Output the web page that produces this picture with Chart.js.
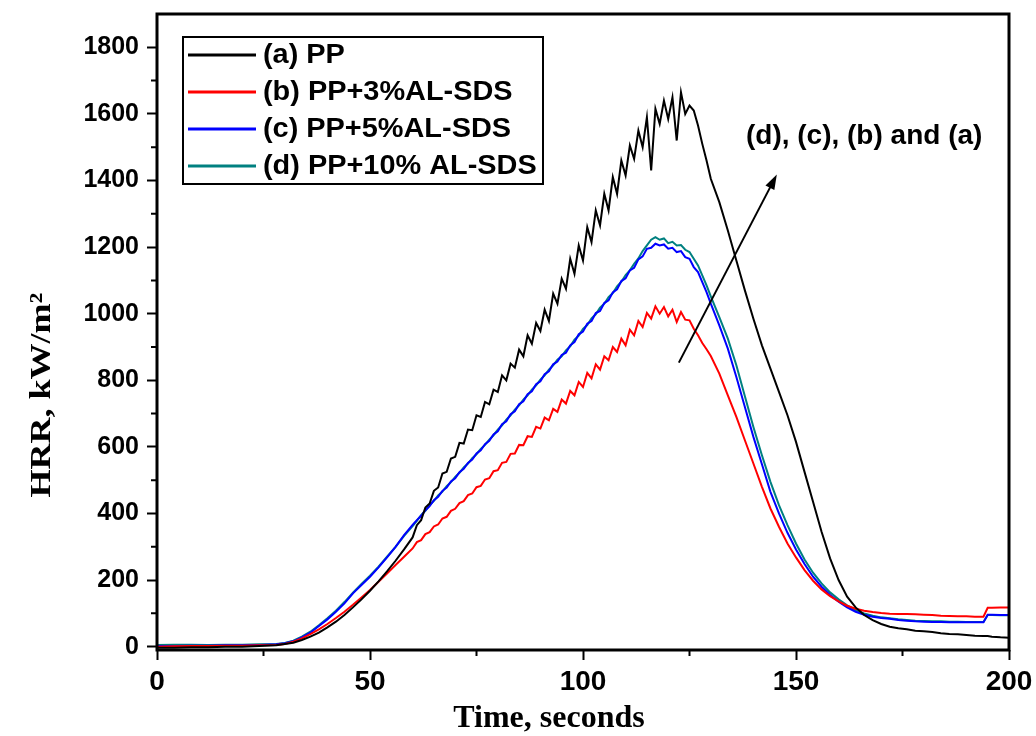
<!DOCTYPE html>
<html>
<head>
<meta charset="utf-8">
<script src="https://cdn.jsdelivr.net/npm/chart.js"></script>
<style>
  html, body { margin: 0; padding: 0; background: #fff; }
  #wrap { width: 1036px; height: 736px; }
</style>
</head>
<body>
<div id="wrap"><canvas id="chart" width="1036" height="736"></canvas></div>
<script>
// time axis, seconds (coarse on the flat start, 1 s around the peaks)
const timeSec = [
  0, 4, 8, 12, 16, 20, 24, 28,
  30, 32, 34, 36, 38, 40, 42, 44, 46, 48, 50, 52, 54, 56, 58, 60,
  61, 62, 63, 64, 65, 66, 67, 68, 69, 70,
  71, 72, 73, 74, 75, 76, 77, 78, 79, 80,
  81, 82, 83, 84, 85, 86, 87, 88, 89, 90,
  91, 92, 93, 94, 95, 96, 97, 98, 99, 100,
  101, 102, 103, 104, 105, 106, 107, 108, 109, 110,
  111, 112, 113, 114, 115, 116, 117, 118, 119, 120,
  121, 122, 123, 124, 125, 126, 127, 128, 129, 130,
  132, 134, 136, 138, 140, 142, 144, 146, 148, 150, 152, 154, 156, 158, 160, 162,
  164, 166, 168, 170, 172, 174, 176, 178, 180, 182, 184, 186, 188, 190, 192, 194,
  195, 196, 198, 200
];

// (a) PP
const hrrPP = [
  -3, -3, -2, -2, 0, 0, 2, 4,
  8, 12, 20, 30, 42, 58, 75, 95, 118, 142, 168, 196, 226, 258, 292, 328,
  365, 380, 418, 430, 468, 478, 520, 525, 565, 570,
  612, 610, 652, 650, 695, 690, 735, 728, 772, 765,
  815, 800, 850, 838, 892, 872, 935, 910, 972, 948,
  1012, 978, 1060, 1030, 1105, 1075, 1165, 1120, 1205, 1160,
  1260, 1215, 1310, 1265, 1360, 1310, 1410, 1360, 1460, 1415,
  1505, 1465, 1550, 1500, 1590, 1430, 1615, 1570, 1640, 1585,
  1650, 1520, 1665, 1600, 1625, 1610, 1565, 1510, 1460, 1405,
  1335, 1250, 1160, 1070, 985, 905, 835, 765, 695, 615, 525, 435, 345, 265, 200, 150,
  118, 95, 80, 68, 60, 55, 52, 48, 46, 44, 40, 38, 37, 35, 33, 32,
  32, 30, 28, 27
];

// (b) PP+3% AL-SDS
const hrrAL3 = [
  0, 1, 2, 2, 3, 3, 4, 5,
  8, 15, 25, 38, 52, 68, 86, 105, 126, 148, 170, 195, 220, 245, 270, 295,
  314, 320, 338, 344, 361, 367, 385, 390, 408, 414,
  431, 437, 455, 460, 479, 483, 502, 506, 527, 530,
  552, 555, 579, 580, 606, 605, 632, 630, 660, 655,
  688, 680, 714, 705, 742, 730, 768, 755, 795, 780,
  822, 806, 848, 832, 872, 860, 900, 885, 925, 905,
  952, 935, 978, 960, 1002, 985, 1022, 1000, 1020, 992,
  1012, 975, 1005, 982, 980, 955, 935, 912, 893, 873,
  820, 755, 690, 620, 550, 480, 415, 360, 310, 268, 230, 198, 172, 152, 136, 123,
  114, 108, 104, 101, 99, 98, 98, 97, 96, 95, 93, 92, 91, 91, 90, 90,
  117, 117, 118, 118
];

// (c) PP+5% AL-SDS
const hrrAL5 = [
  2, 2, 3, 3, 4, 4, 5, 7,
  10, 16, 28, 42, 62, 82, 105, 130, 160, 185, 210, 238, 268, 300, 335, 366,
  380, 393, 410, 422, 440, 450, 468, 478, 496, 506,
  524, 534, 552, 562, 580, 590, 608, 618, 637, 647,
  668, 677, 698, 707, 728, 737, 758, 767, 788, 797,
  818, 827, 848, 856, 876, 883, 905, 915, 938, 946,
  970, 978, 1002, 1008, 1032, 1040, 1064, 1073, 1098, 1106,
  1130, 1138, 1163, 1172, 1195, 1198, 1210, 1205, 1208, 1195,
  1198, 1185, 1188, 1170, 1165, 1140, 1125, 1095, 1065, 1030,
  965, 895, 810, 720, 630, 548, 465, 400, 342, 292, 248, 210, 180, 155, 135, 118,
  105, 96, 90, 86, 84, 80, 78, 76, 75, 74, 74, 73, 73, 73, 73, 73,
  96, 96, 95, 95
];

// (d) PP+10% AL-SDS
const hrrAL10 = [
  5, 6, 6, 5, 6, 6, 7, 8,
  11, 18, 30, 45, 64, 85, 108, 134, 162, 188, 213, 240, 270, 300, 333, 362,
  378, 395, 408, 425, 438, 454, 466, 482, 494, 510,
  522, 538, 550, 566, 578, 594, 606, 622, 635, 652,
  665, 682, 695, 712, 725, 742, 755, 772, 785, 802,
  815, 832, 845, 862, 872, 890, 902, 922, 934, 954,
  966, 986, 998, 1018, 1030, 1050, 1062, 1082, 1096, 1116,
  1130, 1150, 1166, 1188, 1205, 1222, 1230, 1222, 1226, 1212,
  1216, 1205, 1206, 1192, 1185, 1165, 1145, 1115, 1085, 1052,
  990, 925, 845, 752, 660, 575, 495, 425, 365, 310, 262, 222, 190, 163, 142, 124,
  110, 100, 93, 88, 85, 82, 80, 78, 77, 76, 76, 75, 75, 74, 74, 74,
  95, 95, 94, 94
];

const seriesLabels = ['(a) PP', '(b) PP+3%AL-SDS', '(c) PP+5%AL-SDS', '(d) PP+10% AL-SDS'];
const seriesColors = ['#000000', '#ff0000', '#0000ff', '#008080'];
const seriesValues = [hrrPP, hrrAL3, hrrAL5, hrrAL10];

const xMinorTicks = [25, 75, 125, 175];
const yMinorTicks = [100, 300, 500, 700, 900, 1100, 1300, 1500, 1700];

const noteText = '(d), (c), (b) and (a)';
const notePoint = [166, 1532];
const arrowFrom = [122.5, 853];
const arrowTo = [145.5, 1418];

const xTitle = 'Time, seconds';
const yTitle = 'HRR, kW/m\u00B2';

const datasets = seriesValues.map((vals, i) => ({
  label: seriesLabels[i],
  data: timeSec.map((t, j) => ({ x: t, y: vals[j] })),
  borderColor: seriesColors[i],
  backgroundColor: seriesColors[i],
  borderWidth: 2,
  pointRadius: 0,
  tension: 0,
  fill: false
}));

const decorations = {
  id: 'decorations',
  afterDraw(chart) {
    const { ctx, chartArea: a } = chart;
    const x = chart.scales.x, y = chart.scales.y;
    ctx.save();

    // frame
    ctx.strokeStyle = '#000';
    ctx.lineWidth = 3;
    ctx.strokeRect(a.left, a.top, a.right - a.left, a.bottom - a.top);

    // minor ticks
    ctx.lineWidth = 2;
    ctx.beginPath();
    xMinorTicks.forEach(v => {
      const px = x.getPixelForValue(v);
      ctx.moveTo(px, a.bottom);
      ctx.lineTo(px, a.bottom + 6);
    });
    yMinorTicks.forEach(v => {
      const py = y.getPixelForValue(v);
      ctx.moveTo(a.left, py);
      ctx.lineTo(a.left - 6, py);
    });
    ctx.stroke();

    // legend box
    ctx.lineWidth = 2;
    ctx.strokeRect(183, 37, 360, 147);
    ctx.font = 'bold 27px "Liberation Sans", Arial, sans-serif';
    ctx.textBaseline = 'middle';
    ctx.textAlign = 'left';
    chart.data.datasets.forEach((ds, i) => {
      const ry = 55 + i * 37;
      ctx.strokeStyle = ds.borderColor;
      ctx.lineWidth = 3;
      ctx.beginPath();
      ctx.moveTo(188, ry);
      ctx.lineTo(256, ry);
      ctx.stroke();
      ctx.fillStyle = '#000';
      ctx.save();
      ctx.translate(263, ry + 1);
      ctx.scale(1.07, 1);
      ctx.fillText(ds.label, 0, 0);
      ctx.restore();
    });

    // annotation arrow
    const x0 = x.getPixelForValue(arrowFrom[0]), y0 = y.getPixelForValue(arrowFrom[1]);
    const x1 = x.getPixelForValue(arrowTo[0]), y1 = y.getPixelForValue(arrowTo[1]);
    const ang = Math.atan2(y1 - y0, x1 - x0);
    ctx.strokeStyle = '#000';
    ctx.fillStyle = '#000';
    ctx.lineWidth = 2;
    ctx.beginPath();
    ctx.moveTo(x0, y0);
    ctx.lineTo(x1 - 10 * Math.cos(ang), y1 - 10 * Math.sin(ang));
    ctx.stroke();
    ctx.beginPath();
    ctx.moveTo(x1, y1);
    ctx.lineTo(x1 - 15 * Math.cos(ang) + 5 * Math.sin(ang), y1 - 15 * Math.sin(ang) - 5 * Math.cos(ang));
    ctx.lineTo(x1 - 15 * Math.cos(ang) - 5 * Math.sin(ang), y1 - 15 * Math.sin(ang) + 5 * Math.cos(ang));
    ctx.closePath();
    ctx.fill();

    ctx.font = 'bold 28px "Liberation Sans", Arial, sans-serif';
    ctx.textAlign = 'center';
    ctx.textBaseline = 'middle';
    ctx.fillText(noteText, x.getPixelForValue(notePoint[0]), y.getPixelForValue(notePoint[1]));

    // axis titles
    ctx.font = 'bold 32px "Liberation Serif", "Times New Roman", serif';
    ctx.textBaseline = 'alphabetic';
    ctx.fillText(xTitle, 549, 727);

    ctx.font = 'bold 30px "Liberation Serif", "Times New Roman", serif';
    ctx.translate(50, 395);
    ctx.rotate(-Math.PI / 2);
    ctx.scale(1.2, 1);
    ctx.fillText(yTitle, 0, 0);

    ctx.restore();
  }
};

new Chart(document.getElementById('chart').getContext('2d'), {
  type: 'line',
  data: { datasets },
  options: {
    responsive: false,
    animation: false,
    devicePixelRatio: 1,
    layout: { padding: { left: 0, right: 27, top: 14, bottom: 0 } },
    plugins: { legend: { display: false }, tooltip: { enabled: false } },
    scales: {
      x: {
        type: 'linear',
        min: 0,
        max: 200,
        afterFit: s => { s.height = 86; s.paddingLeft = 0; s.paddingRight = 0; },
        ticks: {
          stepSize: 50,
          includeBounds: false,
          color: '#000',
          padding: 5,
          maxRotation: 0,
          font: { family: '"Liberation Sans", Arial, sans-serif', size: 28, weight: 'bold' }
        },
        grid: { display: true, drawOnChartArea: false, drawTicks: true, tickLength: 10, tickWidth: 2, tickColor: '#000' },
        border: { display: false }
      },
      y: {
        type: 'linear',
        min: -10,
        max: 1900,
        afterFit: s => { s.width = 157; s.paddingTop = 0; s.paddingBottom = 0; },
        ticks: {
          stepSize: 200,
          includeBounds: false,
          color: '#000',
          padding: 8,
          callback: v => String(v),
          font: { family: '"Liberation Sans", Arial, sans-serif', size: 25, weight: 'bold' }
        },
        grid: { display: true, drawOnChartArea: false, drawTicks: true, tickLength: 10, tickWidth: 2, tickColor: '#000' },
        border: { display: false }
      }
    }
  },
  plugins: [decorations]
});
</script>
</body>
</html>
